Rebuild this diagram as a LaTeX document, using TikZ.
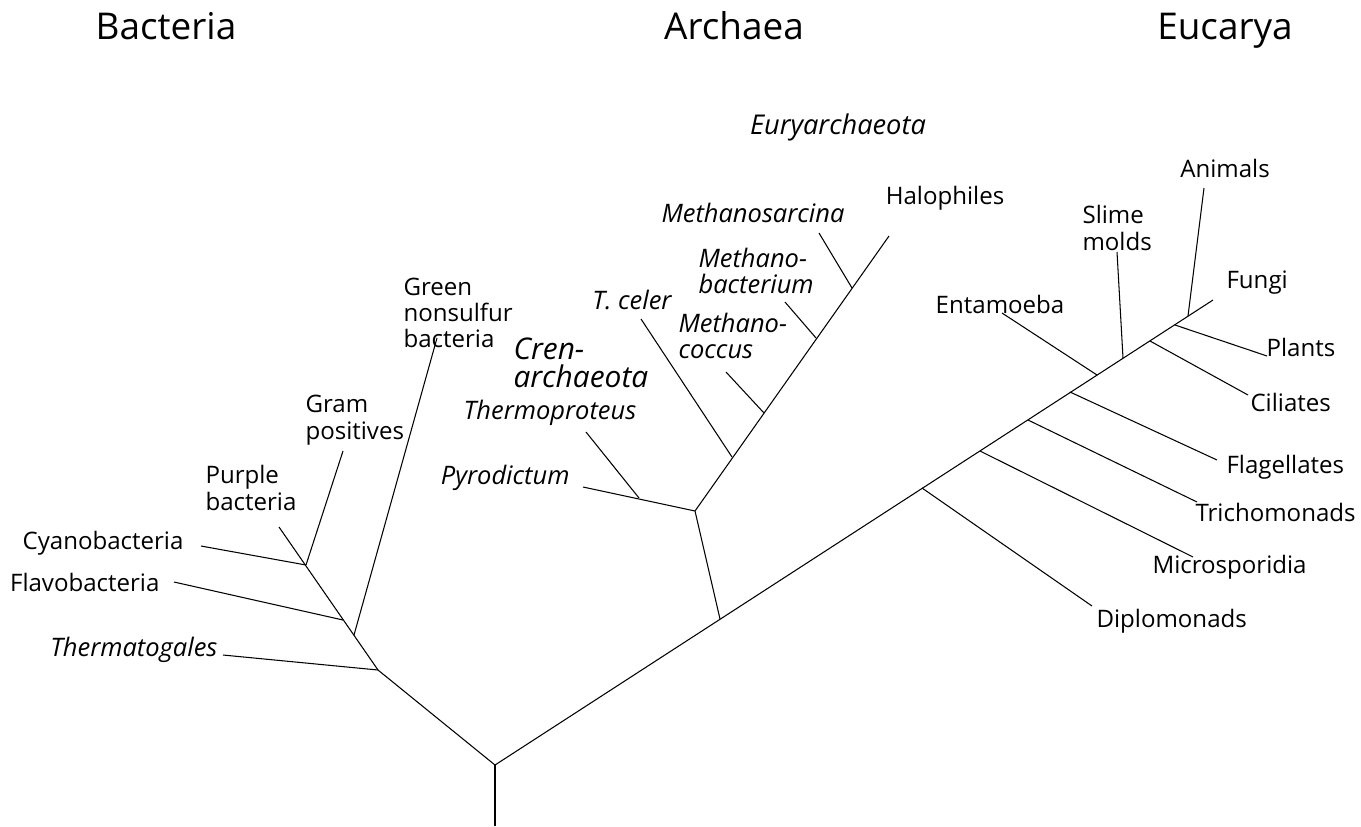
\documentclass[tikz,border=0pt]{standalone}
\usepackage{fontspec}
\setmainfont{Open Sans}
\begin{document}
\begin{tikzpicture}[x=0.02cm,y=-0.02cm,line width=0.6pt,
    lbl/.style={font=\fontsize{13.7}{15}\selectfont,inner sep=0pt,align=left},
    ilbl/.style={lbl,font=\fontsize{14.5}{15}\selectfont\itshape},
    domainlbl/.style={font=\fontsize{21}{24}\selectfont,inner sep=0pt,anchor=base},
    grouplbl/.style={font=\fontsize{17}{16}\selectfont\itshape,inner sep=0pt,align=left}]
      \useasboundingbox (0,0) rectangle (1361,826);
      % domains
      \node[domainlbl] (bacteria) at (166,39) {Bacteria};
      \node[domainlbl] (archaea) at (734,39) {Archaea};
      \node[domainlbl] (eucarya) at (1225,39) {Eucarya};
      \node[grouplbl,font=\fontsize{15.5}{16}\selectfont\itshape] (eury) at (838,127) {Euryarchaeota};
      \node[grouplbl,anchor=west] (cren) at (513,363) {Cren-\\archaeota};
      % tree points
      \coordinate (root) at (495,826);
      \coordinate (base) at (495,765);
      \coordinate (bac) at (378,670);
      \coordinate (bgreen) at (354,635);
      \coordinate (bflavo) at (343,620);
      \coordinate (bcyano) at (306,565);
      \coordinate (arc) at (720,619);
      \coordinate (crenbase) at (695,511);
      \coordinate (cthermo) at (639,498);
      \coordinate (etceler) at (732,457);
      \coordinate (ecoccus) at (764,413);
      \coordinate (ebact) at (816,338);
      \coordinate (esarc) at (852,288);
      \coordinate (kdiplo) at (922,488);
      \coordinate (kmicro) at (980,451);
      \coordinate (ktricho) at (1028,420);
      \coordinate (kflag) at (1070,392);
      \coordinate (kentam) at (1097,375);
      \coordinate (kslime) at (1123,358);
      \coordinate (kcil) at (1150,341);
      \coordinate (kplant) at (1175,325);
      \coordinate (kanim) at (1188,316);
      % leaf ends
      \coordinate (tthermat) at (223,655);
      \coordinate (tflavo) at (174,582);
      \coordinate (tcyano) at (201,546);
      \coordinate (tpurple) at (279,527);
      \coordinate (tgram) at (343,451);
      \coordinate (tgreen) at (437,338);
      \coordinate (tpyro) at (583,487);
      \coordinate (tthermo) at (586,432);
      \coordinate (ttceler) at (641,319);
      \coordinate (tcoccus) at (726,372);
      \coordinate (tbact) at (785,302);
      \coordinate (tsarc) at (819,233);
      \coordinate (thalo) at (889,236);
      \coordinate (tdiplo) at (1092,606);
      \coordinate (tmicro) at (1193,557);
      \coordinate (ttricho) at (1197,502);
      \coordinate (tflag) at (1217,460);
      \coordinate (tentam) at (1002,313);
      \coordinate (tslime) at (1117,252);
      \coordinate (tcil) at (1248,395);
      \coordinate (tplant) at (1267,356);
      \coordinate (tanim) at (1204,188);
      \coordinate (tfungi) at (1213,300);
      % labels
      \node[ilbl,anchor=east] (thermatogales) at (218,650) {Thermatogales};
      \node[lbl,anchor=east] (flavobacteria) at (160,582) {Flavobacteria};
      \node[lbl,anchor=east] (cyanobacteria) at (184,543) {Cyanobacteria};
      \node[lbl,anchor=west] (purple) at (205,488) {Purple\\bacteria};
      \node[lbl,anchor=west] (gram) at (305,420) {Gram\\positives};
      \node[lbl,anchor=west] (green) at (403,313) {Green\\nonsulfur\\bacteria};
      \node[ilbl,anchor=east] (pyrodictum) at (570,478) {Pyrodictum};
      \node[ilbl] (thermoproteus) at (550,413) {Thermoproteus};
      \node[ilbl] (tceler) at (632,300) {T. celer};
      \node[ilbl,anchor=west] (coccus) at (678,336) {Methano-\\coccus};
      \node[ilbl,anchor=west] (bacterium) at (698,271) {Methano-\\bacterium};
      \node[ilbl] (sarcina) at (753,213) {Methanosarcina};
      \node[lbl] (halophiles) at (945,198) {Halophiles};
      \node[lbl] (entamoeba) at (1000,304) {Entamoeba};
      \node[lbl,anchor=west] (slime) at (1082,228) {Slime\\molds};
      \node[lbl] (animals) at (1225,168) {Animals};
      \node[lbl,anchor=west] (fungi) at (1226,283) {Fungi};
      \node[lbl,anchor=west] (plants) at (1266,347) {Plants};
      \node[lbl,anchor=west] (ciliates) at (1250,402) {Ciliates};
      \node[lbl,anchor=west] (flagellates) at (1226,467) {Flagellates};
      \node[lbl,anchor=west] (trichomonads) at (1195,512) {Trichomonads};
      \node[lbl,anchor=west] (microsporidia) at (1152,567) {Microsporidia};
      \node[lbl,anchor=west] (diplomonads) at (1096,621) {Diplomonads};
      \begin{scope}[-]
        % trunk
        \draw (root) to (base);
        \draw (base) to (bac);
        \draw (base) to (tfungi);
        % bacteria
        \draw (bac) to (tpurple);
        \draw (bac) to (tthermat);
        \draw (bflavo) to (tflavo);
        \draw (bgreen) to (tgreen);
        \draw (bcyano) to (tcyano);
        \draw (bcyano) to (tgram);
        % archaea
        \draw (arc) to (crenbase);
        \draw (crenbase) to (tpyro);
        \draw (cthermo) to (tthermo);
        \draw (crenbase) to (thalo);
        \draw (etceler) to (ttceler);
        \draw (ecoccus) to (tcoccus);
        \draw (ebact) to (tbact);
        \draw (esarc) to (tsarc);
        % eucarya
        \draw (kdiplo) to (tdiplo);
        \draw (kmicro) to (tmicro);
        \draw (ktricho) to (ttricho);
        \draw (kflag) to (tflag);
        \draw (kentam) to (tentam);
        \draw (kslime) to (tslime);
        \draw (kcil) to (tcil);
        \draw (kplant) to (tplant);
        \draw (kanim) to (tanim);
      \end{scope}
    \end{tikzpicture}
\end{document}
